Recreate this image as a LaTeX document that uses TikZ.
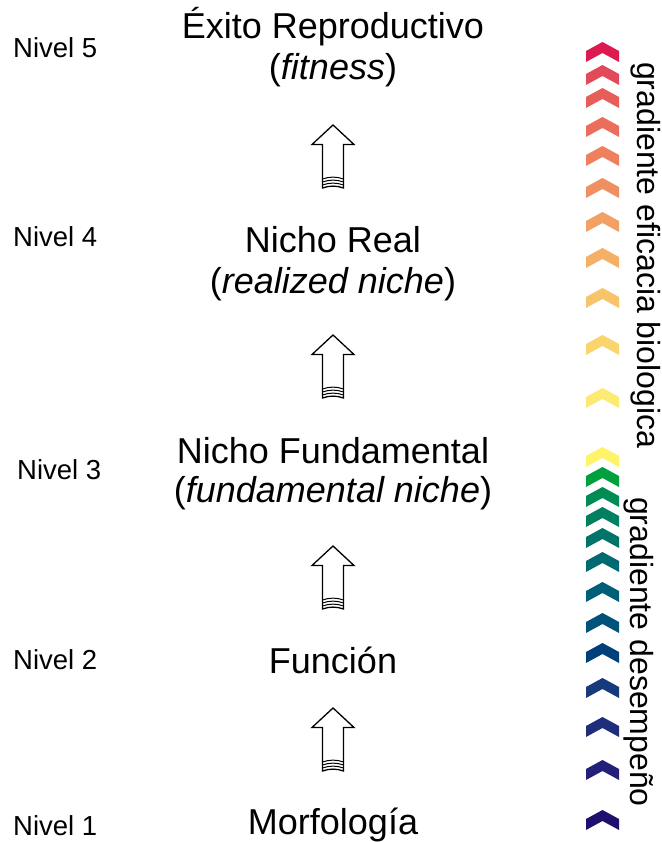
\documentclass[tikz,border=0pt]{standalone}
\usepackage{fontspec}
\setmainfont{Liberation Sans}
\usetikzlibrary{calc}
\definecolor{u1}{HTML}{DD1A50}
\definecolor{u2}{HTML}{E24A5A}
\definecolor{u3}{HTML}{E65D59}
\definecolor{u4}{HTML}{EA6E5B}
\definecolor{u5}{HTML}{EE805E}
\definecolor{u6}{HTML}{F09062}
\definecolor{u7}{HTML}{F2A064}
\definecolor{u8}{HTML}{F5B067}
\definecolor{u9}{HTML}{F8C46B}
\definecolor{u10}{HTML}{FAD56E}
\definecolor{u11}{HTML}{FDEA73}
\definecolor{u12}{HTML}{FFF36A}
\definecolor{l1}{HTML}{00A03E}
\definecolor{l2}{HTML}{008C54}
\definecolor{l3}{HTML}{008061}
\definecolor{l4}{HTML}{007468}
\definecolor{l5}{HTML}{006A72}
\definecolor{l6}{HTML}{005F78}
\definecolor{l7}{HTML}{00527A}
\definecolor{l8}{HTML}{003F7A}
\definecolor{l9}{HTML}{163A7C}
\definecolor{l10}{HTML}{1F2E7A}
\definecolor{l11}{HTML}{23207A}
\definecolor{l12}{HTML}{1F0F6E}
\newcommand\chevron[2]{%
  \fill[#2] (602.5,{842-#1}) -- ++(16.5,-9) -- ++(0,-11) -- ++(-16.5,9)
    -- ++(-16.5,-9) -- ++(0,11) -- cycle;}
\newcommand\blockarr[2]{%
  \coordinate (#1) at (333,{842-#2});
  \draw[arrowline] (#1) -- ++(21,-19.5) -- ++(-10.5,0) -- ++(0,-43.5)
    .. controls ++(-7,2.5) and ++(7,2.5) .. ++(-21,0)
    -- ++(0,43.5) -- ++(-10.5,0) -- cycle;
  \foreach \k in {3,6,9}{
    \draw[waveline] ($(#1)+(10.5,-63+\k)$) .. controls ++(-7,2.5) and ++(7,2.5) .. ++(-21,0);
  }}
\tikzset{
  main/.style={anchor=base, inner sep=0pt, font=\fontsize{36}{40}\selectfont},
  nivel/.style={anchor=base west, inner sep=0pt, font=\fontsize{27.5}{32}\selectfont},
  grad/.style={anchor=base west, inner sep=0pt, rotate=-90, font=\fontsize{32}{36}\selectfont},
  arrowline/.style={draw=black, line width=1.3pt, fill=white, line join=miter},
  waveline/.style={draw=black, line width=1pt},
}
\begin{document}
\begin{tikzpicture}[x=1pt,y=1pt]
\useasboundingbox (0,0) rectangle (661,842);
% main texts
\node[main] (t5a) at (333,{842-39}) {Éxito Reproductivo};
\node[main] (t5b) at (333,{842-80}) {(\textit{fitness})};
\node[main] (t4a) at (333,{842-253}) {Nicho Real};
\node[main] (t4b) at (333,{842-294}) {(\textit{realized niche})};
\node[main] (t3a) at (333,{842-464}) {Nicho Fundamental};
\node[main] (t3b) at (333,{842-503}) {(\textit{fundamental niche})};
\node[main] (t2) at (333,{842-674}) {Función};
\node[main] (t1) at (333,{842-834}) {Morfología};
% level labels
\node[nivel] (n5) at (13,{842-58}) {Nivel 5};
\node[nivel] (n4) at (13,{842-247}) {Nivel 4};
\node[nivel] (n3) at (17,{842-480}) {Nivel 3};
\node[nivel] (n2) at (13,{842-670}) {Nivel 2};
\node[nivel] (n1) at (13,{842-836}) {Nivel 1};
% arrows
\blockarr{a4}{125}
\blockarr{a3}{335}
\blockarr{a2}{546}
\blockarr{a1}{708}
% chevrons
\foreach \t/\c in {42/u1,65/u2,88/u3,117/u4,146/u5,178/u6,212/u7,248/u8,288/u9,335/u10,388/u11,447/u12,
  467/l1,487/l2,507/l3,528/l4,552/l5,582/l6,613/l7,643/l8,678/l9,717/l10,760/l11,810/l12}{
  \chevron{\t}{\c}
}
% gradient labels
\node[grad] (g1) at (637,{842-62}) {gradiente eficacia biologica};
\node[grad] (g2) at (630,{842-497}) {gradiente desempeño};
\end{tikzpicture}
\end{document}
